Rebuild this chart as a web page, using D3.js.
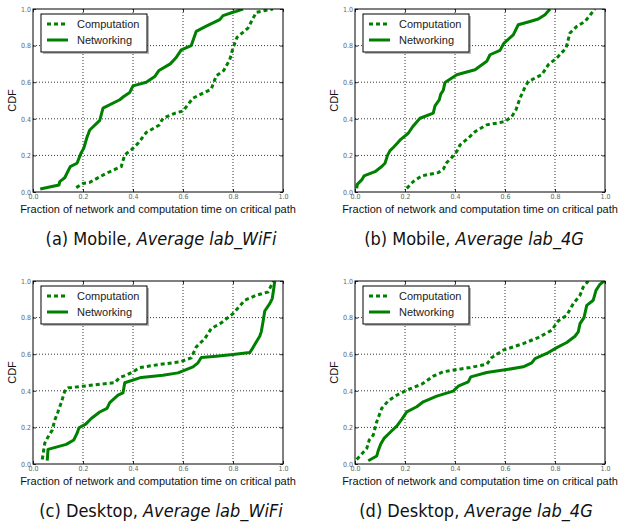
<!DOCTYPE html>
<html>
<head>
<meta charset="utf-8">
<script src="https://cdn.jsdelivr.net/npm/d3@7"></script>
<style>
  body { margin: 0; background: #fff; }
  svg { display: block; }
  .tick text { font-family: "Liberation Sans Narrow", "DejaVu Sans Condensed", sans-serif; font-size: 7px; fill: #666; }
  .tick line { stroke: #000; stroke-width: 0.8; }
  .domain { display: none; }
</style>
</head>
<body>
<div id="chart"></div>
<script>
// CDF points: [fraction, cdf]
const mobileWifiComp = [[0.173,0.024],[0.2,0.047],[0.227,0.053],[0.293,0.102],[0.353,0.139],[0.367,0.203],[0.393,0.23],[0.42,0.266],[0.453,0.325],[0.504,0.365],[0.52,0.403],[0.567,0.43],[0.6,0.443],[0.64,0.513],[0.68,0.54],[0.713,0.562],[0.733,0.635],[0.763,0.664],[0.787,0.723],[0.8,0.787],[0.816,0.845],[0.86,0.896],[0.893,0.982],[0.933,0.993],[0.96,1.0]]
const mobileWifiNet = [[0.029,0.016],[0.104,0.038],[0.107,0.057],[0.127,0.078],[0.149,0.139],[0.176,0.157],[0.193,0.215],[0.203,0.239],[0.216,0.299],[0.227,0.339],[0.267,0.391],[0.28,0.458],[0.347,0.504],[0.363,0.522],[0.387,0.544],[0.4,0.58],[0.453,0.6],[0.487,0.631],[0.504,0.664],[0.549,0.7],[0.571,0.732],[0.593,0.777],[0.633,0.8],[0.653,0.878],[0.691,0.905],[0.747,0.942],[0.76,0.964],[0.8,0.982],[0.813,0.987],[0.84,1.0]]

const mobile4gComp = [[0.207,0.02],[0.233,0.057],[0.267,0.088],[0.333,0.106],[0.353,0.124],[0.367,0.161],[0.393,0.197],[0.407,0.221],[0.42,0.257],[0.453,0.294],[0.48,0.33],[0.527,0.367],[0.567,0.376],[0.6,0.385],[0.627,0.412],[0.644,0.449],[0.66,0.513],[0.68,0.573],[0.693,0.604],[0.747,0.641],[0.773,0.695],[0.807,0.732],[0.844,0.786],[0.86,0.869],[0.887,0.905],[0.92,0.932],[0.947,0.978],[0.96,1.0]]
const mobile4gNet = [[0.007,0.02],[0.009,0.042],[0.027,0.066],[0.036,0.088],[0.08,0.111],[0.107,0.139],[0.12,0.157],[0.13,0.2],[0.14,0.226],[0.153,0.243],[0.169,0.266],[0.183,0.288],[0.213,0.321],[0.233,0.361],[0.26,0.403],[0.313,0.431],[0.32,0.471],[0.337,0.504],[0.343,0.535],[0.353,0.555],[0.36,0.599],[0.407,0.641],[0.48,0.668],[0.527,0.714],[0.54,0.75],[0.58,0.774],[0.596,0.814],[0.633,0.859],[0.653,0.914],[0.7,0.932],[0.733,0.945],[0.76,0.969],[0.78,1.0]]

const desktopWifiComp = [[0.037,0.025],[0.047,0.113],[0.064,0.158],[0.077,0.185],[0.087,0.24],[0.1,0.285],[0.113,0.335],[0.127,0.398],[0.14,0.416],[0.2,0.425],[0.267,0.436],[0.327,0.444],[0.347,0.473],[0.373,0.485],[0.4,0.504],[0.427,0.527],[0.507,0.544],[0.587,0.558],[0.633,0.58],[0.653,0.64],[0.687,0.685],[0.713,0.74],[0.753,0.771],[0.8,0.822],[0.847,0.895],[0.893,0.922],[0.94,0.94],[0.953,0.976],[0.963,1.0]]
const desktopWifiNet = [[0.057,0.018],[0.06,0.08],[0.133,0.107],[0.163,0.131],[0.176,0.167],[0.184,0.198],[0.211,0.218],[0.233,0.249],[0.267,0.284],[0.296,0.304],[0.307,0.335],[0.34,0.376],[0.36,0.389],[0.367,0.444],[0.433,0.473],[0.52,0.485],[0.58,0.498],[0.64,0.531],[0.66,0.553],[0.673,0.582],[0.733,0.589],[0.8,0.598],[0.867,0.609],[0.88,0.636],[0.893,0.667],[0.907,0.698],[0.913,0.722],[0.92,0.776],[0.927,0.836],[0.947,0.876],[0.957,0.904],[0.963,0.958],[0.967,1.0]]

const desktop4gComp = [[0.007,0.025],[0.027,0.055],[0.047,0.085],[0.057,0.131],[0.073,0.158],[0.087,0.231],[0.107,0.304],[0.133,0.345],[0.167,0.376],[0.207,0.404],[0.267,0.436],[0.313,0.48],[0.353,0.504],[0.407,0.516],[0.46,0.527],[0.527,0.545],[0.547,0.582],[0.593,0.622],[0.673,0.658],[0.733,0.691],[0.787,0.731],[0.813,0.782],[0.847,0.813],[0.873,0.876],[0.9,0.922],[0.913,0.967],[0.933,1.0]]
const desktop4gNet = [[0.053,0.018],[0.087,0.044],[0.093,0.073],[0.103,0.109],[0.116,0.14],[0.143,0.176],[0.167,0.207],[0.187,0.244],[0.207,0.285],[0.247,0.313],[0.273,0.34],[0.327,0.371],[0.393,0.398],[0.413,0.425],[0.453,0.449],[0.463,0.476],[0.527,0.5],[0.607,0.516],[0.673,0.531],[0.707,0.553],[0.72,0.576],[0.767,0.604],[0.807,0.636],[0.847,0.664],[0.88,0.698],[0.893,0.722],[0.9,0.767],[0.916,0.8],[0.927,0.867],[0.953,0.895],[0.964,0.949],[0.98,0.982],[0.996,1.0]]

const tickValues = [0, 0.2, 0.4, 0.6, 0.8, 1.0]
const seriesNames = ["Computation", "Networking"]
const captions = [
  ["(a) Mobile, ", "Average lab_WiFi"],
  ["(b) Mobile, ", "Average lab_4G"],
  ["(c) Desktop, ", "Average lab_WiFi"],
  ["(d) Desktop, ", "Average lab_4G"]
]
const xLabel = "Fraction of network and computation time on critical path"
const yLabel = "CDF"

const panels = [
  { left: 33, top: 9, comp: mobileWifiComp, net: mobileWifiNet, cap: captions[0], capX: 161 },
  { left: 355, top: 9, comp: mobile4gComp, net: mobile4gNet, cap: captions[1], capX: 474 },
  { left: 33, top: 281, comp: desktopWifiComp, net: desktopWifiNet, cap: captions[2], capX: 161 },
  { left: 355, top: 281, comp: desktop4gComp, net: desktop4gNet, cap: captions[3], capX: 476 }
]

const W = 623, H = 527
const pw = 250, ph = 183
const green = "#008000"
const sansFont = "'Liberation Sans', Arial, sans-serif"
const narrowFont = "'Liberation Sans Narrow', 'DejaVu Sans Condensed', sans-serif"

const svg = d3.select('#chart').append('svg')
  .attr('width', W).attr('height', H)

svg.append('rect').attr('width', W).attr('height', H).attr('fill', '#fff')

panels.forEach((p, idx) => {
  const x = d3.scaleLinear().domain([0, 1]).range([0, pw])
  const y = d3.scaleLinear().domain([0, 1]).range([ph, 0])

  const g = svg.append('g').attr('transform', `translate(${p.left},${p.top})`)

  g.append('clipPath').attr('id', 'clip' + idx)
    .append('rect').attr('width', pw).attr('height', ph)

  // grid
  const inner = tickValues.slice(1, -1)
  g.selectAll('.gx').data(inner).enter().append('line')
    .attr('x1', d => x(d)).attr('x2', d => x(d))
    .attr('y1', 0).attr('y2', ph)
    .attr('stroke', '#000').attr('stroke-width', 0.8).attr('stroke-dasharray', '1,2')
  g.selectAll('.gy').data(inner).enter().append('line')
    .attr('x1', 0).attr('x2', pw)
    .attr('y1', d => y(d)).attr('y2', d => y(d))
    .attr('stroke', '#000').attr('stroke-width', 0.8).attr('stroke-dasharray', '1,2')

  // axes, ticks pointing inward
  g.append('g').attr('transform', `translate(0,${ph})`)
    .call(d3.axisBottom(x).tickValues(tickValues).tickSize(-3).tickPadding(2.5).tickFormat(d3.format('.1f')))
  g.append('g')
    .call(d3.axisLeft(y).tickValues(tickValues).tickSize(-3).tickPadding(2).tickFormat(d3.format('.1f')))
  g.append('g')
    .call(d3.axisTop(x).tickValues(tickValues).tickSize(-3).tickFormat(''))
  g.append('g').attr('transform', `translate(${pw},0)`)
    .call(d3.axisRight(y).tickValues(tickValues).tickSize(-3).tickFormat(''))

  const line = d3.line().x(d => x(d[0])).y(d => y(d[1]))

  const lines = g.append('g').attr('clip-path', `url(#clip${idx})`)
  lines.append('path').datum(p.comp)
    .attr('d', line).attr('fill', 'none').attr('stroke', green)
    .attr('stroke-width', 3).attr('stroke-dasharray', '4,3')
  lines.append('path').datum(p.net)
    .attr('d', line).attr('fill', 'none').attr('stroke', green)
    .attr('stroke-width', 3).attr('stroke-linejoin', 'round')

  // frame
  g.append('rect').attr('width', pw).attr('height', ph)
    .attr('fill', 'none').attr('stroke', '#000').attr('stroke-width', 1)

  // legend
  const lg = g.append('g').attr('transform', 'translate(8,5)')
  lg.append('rect').attr('x', 2).attr('y', 2).attr('width', 106).attr('height', 38)
    .attr('fill', '#888').attr('opacity', 0.6)
  lg.append('rect').attr('width', 106).attr('height', 38)
    .attr('fill', '#fff').attr('stroke', '#000').attr('stroke-width', 1)
  seriesNames.forEach((name, i) => {
    const ly = 10 + i * 16
    lg.append('line').attr('x1', 6).attr('x2', 27).attr('y1', ly).attr('y2', ly)
      .attr('stroke', green).attr('stroke-width', 3)
      .attr('stroke-dasharray', i === 0 ? '4,3' : null)
    lg.append('text').attr('x', 36).attr('y', ly + 4)
      .attr('font-family', sansFont).attr('font-size', 11).attr('fill', '#222')
      .text(name)
  })

  // axis labels
  g.append('text')
    .attr('x', pw / 2).attr('y', ph + 21)
    .attr('text-anchor', 'middle')
    .attr('font-family', sansFont).attr('font-size', 11).attr('fill', '#111')
    .text(xLabel)
  g.append('text')
    .attr('transform', `translate(${-17},${ph / 2}) rotate(-90)`)
    .attr('text-anchor', 'middle')
    .attr('font-family', sansFont).attr('font-size', 11).attr('fill', '#111')
    .text(yLabel)

  // caption
  const cap = svg.append('text')
    .attr('x', p.capX).attr('y', p.top + ph + 53)
    .attr('text-anchor', 'middle')
    .attr('font-family', narrowFont).attr('font-size', 18).attr('fill', '#111')
  cap.append('tspan').text(p.cap[0])
  cap.append('tspan').attr('font-style', 'italic').text(p.cap[1])
})
</script>
</body>
</html>
